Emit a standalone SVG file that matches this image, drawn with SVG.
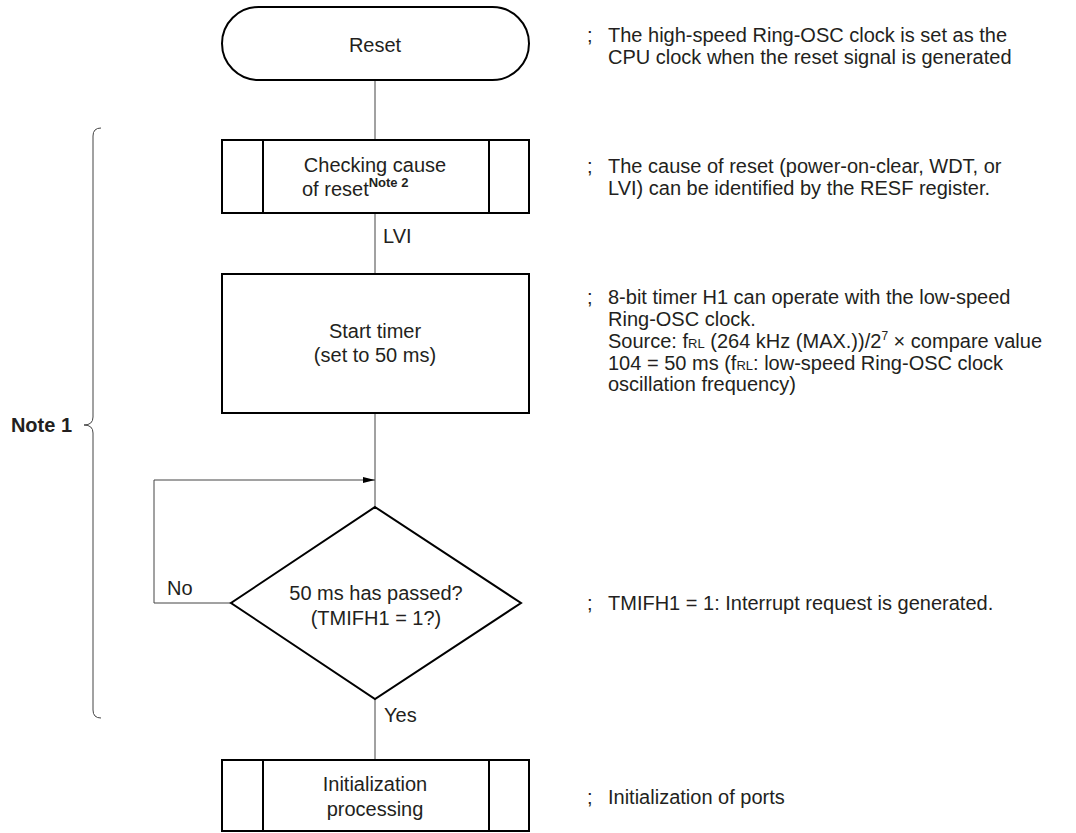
<svg xmlns="http://www.w3.org/2000/svg" width="1076" height="833" viewBox="0 0 1076 833">
  <style>
    text { font-family: "Liberation Sans", Arial, sans-serif; font-size: 20px; fill: #231f20; }
    .c { text-anchor: middle; }
    .shape { fill: #fff; stroke: #000; stroke-width: 2; }
    .bar { stroke: #000; stroke-width: 2; }
    .wire { fill: none; stroke: #444; stroke-width: 1; }
    .sc { font-size: 13px; }
    .sup { font-size: 12px; }
    .bold { font-weight: bold; }
  </style>
  <defs>
    <marker id="arrow" markerWidth="12" markerHeight="6" refX="12" refY="3" orient="auto" markerUnits="userSpaceOnUse">
      <path d="M0,0 L12,3 L0,6 Z" fill="#000"/>
    </marker>
  </defs>

  <rect width="1076" height="833" fill="#fff"/>

  <!-- connectors -->
  <g id="connectors">
    <line class="wire" x1="375" y1="80" x2="375" y2="140"/>
    <line class="wire" x1="375" y1="213" x2="375" y2="274"/>
    <line class="wire" x1="375" y1="413" x2="375" y2="507"/>
    <line class="wire" x1="375" y1="699" x2="375" y2="760"/>
    <polyline class="wire" stroke="#000" points="231,603 154,603 154,480 375,480" marker-end="url(#arrow)"/>
    <text x="383" y="243">LVI</text>
    <text x="167" y="595">No</text>
    <text x="384" y="722">Yes</text>
  </g>

  <!-- bracket for Note 1 -->
  <g id="note1">
    <path class="wire" stroke="#333" d="M101,128 Q93,128 93,136 L93,417 Q93,425 84,425 Q93,425 93,433 L93,710 Q93,718 101,718"/>
    <text class="bold" x="72" y="432" text-anchor="end" font-size="17">Note 1</text>
  </g>

  <!-- Reset terminal -->
  <g id="reset">
    <rect class="shape" x="222" y="7" width="307" height="73" rx="36.5" ry="36.5"/>
    <text class="c" x="375" y="52">Reset</text>
  </g>

  <!-- Checking cause of reset -->
  <g id="check">
    <rect class="shape" x="222" y="140" width="307" height="73"/>
    <line class="bar" x1="263" y1="140" x2="263" y2="213"/>
    <line class="bar" x1="489" y1="140" x2="489" y2="213"/>
    <text class="c" x="375" y="172">Checking cause</text>
    <text x="302" y="196">of reset<tspan class="bold" font-size="13" dy="-9">Note 2</tspan></text>
  </g>

  <!-- Start timer -->
  <g id="timer">
    <rect class="shape" x="222" y="274" width="307" height="139"/>
    <text class="c" x="375" y="338">Start timer</text>
    <text class="c" x="375" y="362">(set to 50 ms)</text>
  </g>

  <!-- 50 ms decision -->
  <g id="decision">
    <polygon class="shape" points="375,507 521,603 375,699 231,603"/>
    <text class="c" x="376" y="600">50 ms has passed?</text>
    <text class="c" x="376" y="625">(TMIFH1 = 1?)</text>
  </g>

  <!-- Initialization processing -->
  <g id="init">
    <rect class="shape" x="222" y="760" width="307" height="71"/>
    <line class="bar" x1="263" y1="760" x2="263" y2="831"/>
    <line class="bar" x1="489" y1="760" x2="489" y2="831"/>
    <text class="c" x="375" y="791">Initialization</text>
    <text class="c" x="375" y="816">processing</text>
  </g>

  <!-- remarks -->
  <g id="remarks">
    <text x="587" y="41.5">;</text>
    <text x="608" y="41.5">The high-speed Ring-OSC clock is set as the</text>
    <text x="608" y="64">CPU clock when the reset signal is generated</text>

    <text x="587" y="172.5">;</text>
    <text x="608" y="172.5">The cause of reset (power-on-clear, WDT, or</text>
    <text x="608" y="195">LVI) can be identified by the RESF register.</text>

    <text x="587" y="304">;</text>
    <text x="608" y="304">8-bit timer H1 can operate with the low-speed</text>
    <text x="608" y="326">Ring-OSC clock.</text>
    <text x="608" y="348">Source: f<tspan class="sc">RL</tspan> (264 kHz (MAX.))/2<tspan class="sup" dy="-8">7</tspan><tspan dy="8"> × compare value</tspan></text>
    <text x="608" y="369.5">104 = 50 ms (f<tspan class="sc">RL</tspan>: low-speed Ring-OSC clock</text>
    <text x="608" y="391">oscillation frequency)</text>

    <text x="587" y="610">;</text>
    <text x="608" y="610">TMIFH1 = 1: Interrupt request is generated.</text>

    <text x="587" y="804">;</text>
    <text x="608" y="804">Initialization of ports</text>
  </g>
</svg>
